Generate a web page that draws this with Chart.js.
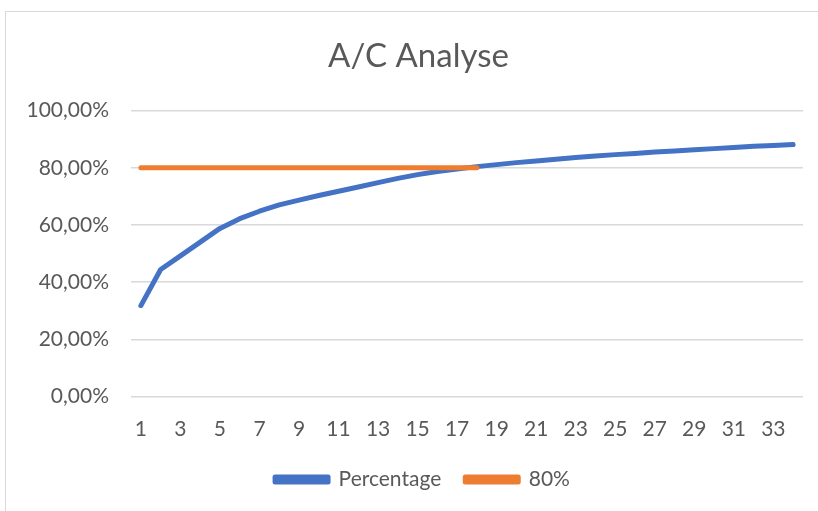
<!DOCTYPE html>
<html>
<head>
<meta charset="utf-8">
<script src="https://cdn.jsdelivr.net/npm/chart.js@4"></script>
<style>
    html, body { margin: 0; padding: 0; background: #fff; overflow: hidden; }
    #wrap { position: relative; width: 818px; height: 511px; }
    #frame { position: absolute; left: 5px; top: 11px; width: 900px; height: 600px;
             border: 1px solid #d9d9d9; box-sizing: border-box; pointer-events: none; }
</style>
</head>
<body>
<div id="wrap">
    <canvas id="grafica" width="818" height="511"></canvas>
    <div id="frame"></div>
</div>
<script>
/* chart data */
const categorias = Array.from({ length: 34 }, (_, i) => String(i + 1));
const porcentaje = [
    0.318, 0.444, 0.492, 0.540, 0.588, 0.622, 0.648, 0.670, 0.687, 0.703,
    0.718, 0.733, 0.748, 0.763, 0.776, 0.787, 0.796, 0.804, 0.811, 0.818,
    0.824, 0.830, 0.836, 0.841, 0.846, 0.850, 0.855, 0.859, 0.863, 0.867,
    0.871, 0.875, 0.878, 0.881
];
const limite = [
    0.8, 0.8, 0.8, 0.8, 0.8, 0.8, 0.8, 0.8, 0.8, 0.8,
    0.8, 0.8, 0.8, 0.8, 0.8, 0.8, 0.8, 0.8, null, null,
    null, null, null, null, null, null, null, null, null, null,
    null, null, null, null
];
const ticks_y = [0, 0.2, 0.4, 0.6, 0.8, 1.0];

const TEXTO = '#595959';
const FUENTE = 'Lato, sans-serif';

/* formats 0.8 as 80,00% */
function formato_pct(v) {
    return (v * 100).toFixed(2).replace('.', ',') + '%';
}

/* nudges title and legend to the right, like the Excel layout */
const desplazar = {
    id: 'desplazar',
    afterLayout(chart) {
        chart.titleBlock.left  += 12;
        chart.titleBlock.right += 12;
        chart.legend.left  += 16;
        chart.legend.right += 16;
    }
};

new Chart(document.getElementById('grafica'), {
    type: 'line',
    data: {
        labels: categorias,
        datasets: [{
            label: 'Percentage',
            data: porcentaje,
            borderColor: '#4472C4',
            backgroundColor: '#4472C4',
            borderWidth: 5,
            borderCapStyle: 'round',
            borderJoinStyle: 'round',
            pointRadius: 0,
            tension: 0,
            order: 1
        }, {
            label: '80%',
            data: limite,
            borderColor: '#ED7D31',
            backgroundColor: '#ED7D31',
            borderWidth: 5,
            borderCapStyle: 'round',
            borderJoinStyle: 'round',
            pointRadius: 0,
            tension: 0,
            order: 0
        }]
    },
    options: {
        responsive: false,
        animation: false,
        layout: { padding: { left: 10, right: 15, top: 14, bottom: 11 } },
        plugins: {
            title: {
                display: true,
                text: 'A/C Analyse',
                color: TEXTO,
                font: { family: FUENTE, size: 33, weight: 'normal' },
                padding: { top: 23, bottom: 34 }
            },
            legend: {
                position: 'bottom',
                labels: {
                    color: TEXTO,
                    font: { family: FUENTE, size: 21 },
                    boxWidth: 53,
                    boxHeight: 5,
                    padding: 24,
                    sort: (a, b) => a.datasetIndex - b.datasetIndex
                }
            },
            tooltip: { enabled: false }
        },
        scales: {
            x: {
                offset: true,
                afterFit: s => { s.height = 48.5; },
                grid: { display: false },
                border: { display: false },
                ticks: {
                    color: TEXTO,
                    font: { family: FUENTE, size: 21 },
                    autoSkip: false,
                    maxRotation: 0,
                    padding: 12,
                    callback: (v, i) => (i % 2 === 0 ? categorias[i] : '')
                }
            },
            y: {
                min: 0,
                max: 1,
                afterBuildTicks: s => { s.ticks = ticks_y.map(v => ({ value: v })); },
                afterFit: s => { s.width = 121; },
                grid: { color: '#d9d9d9', lineWidth: 1.5, drawTicks: false },
                border: { display: false },
                ticks: {
                    color: TEXTO,
                    font: { family: FUENTE, size: 21 },
                    padding: 22,
                    callback: v => formato_pct(v)
                }
            }
        }
    },
    plugins: [desplazar]
});
</script>
</body>
</html>
